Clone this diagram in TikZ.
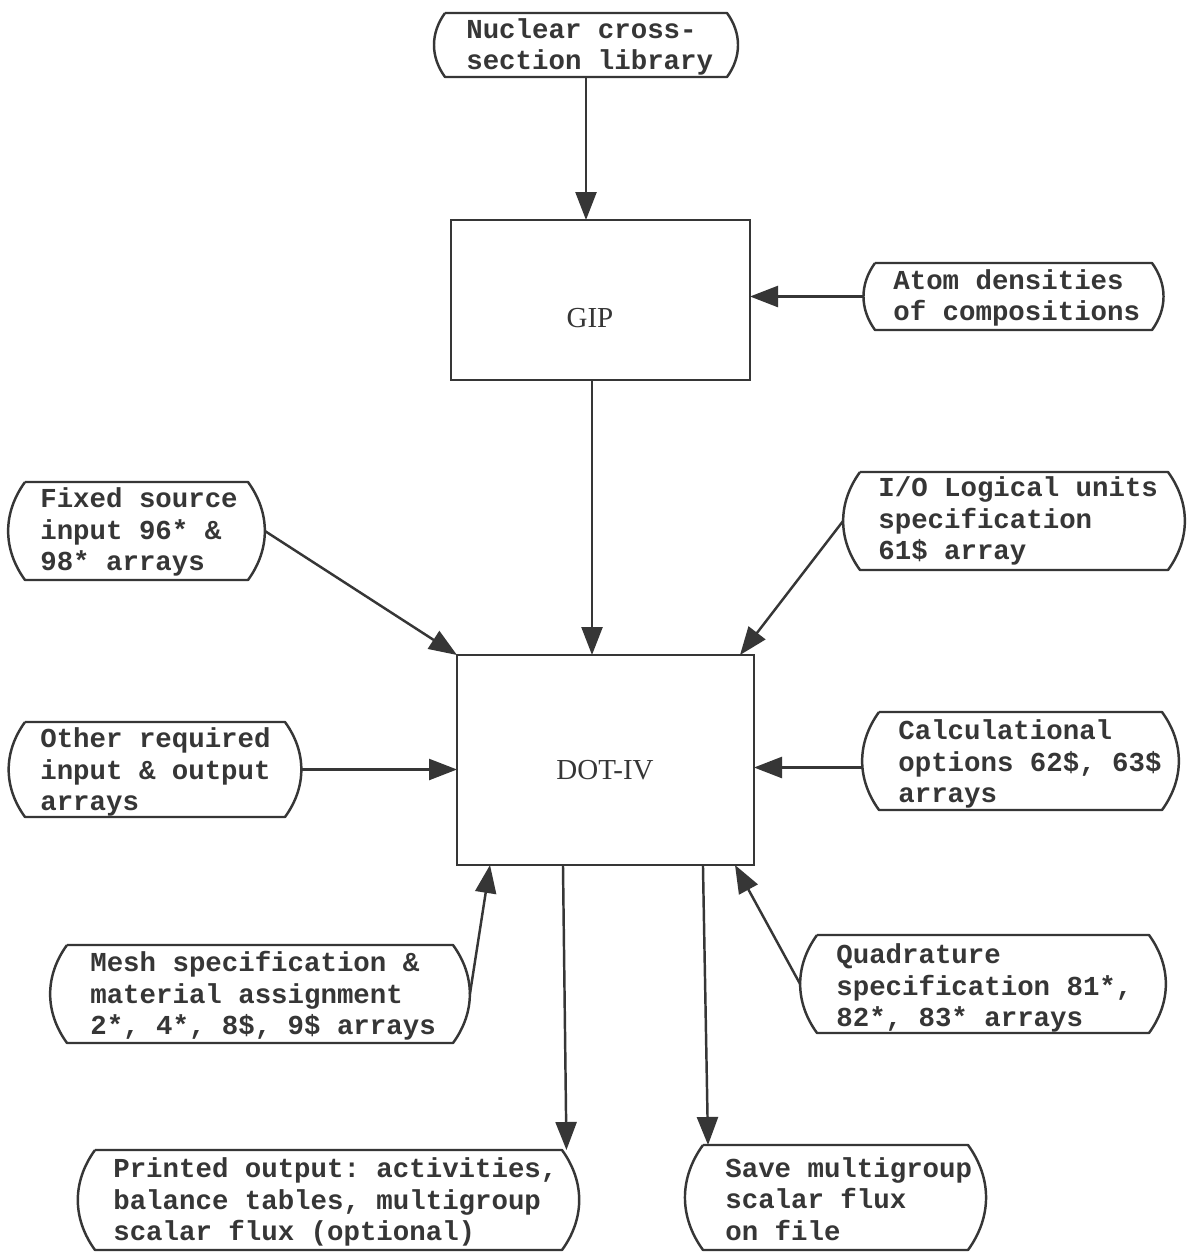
\documentclass[tikz,border=0pt]{standalone}
\usepackage{fontspec}
\setmonofont{Liberation Mono}
\newfontfamily\serifL{Liberation Serif}
\usetikzlibrary{arrows.meta,calc}
\definecolor{ink}{HTML}{363636}
\tikzset{
  frame/.style={draw=none,rectangle,inner sep=0pt,outer sep=0pt},
  line/.style={draw=ink,line width=1.4pt,line join=round},
  txt/.style={font=\ttfamily\bfseries\fontsize{15.6}{17.9}\selectfont,align=left,anchor=west,inner sep=0pt,text=ink},
  boxtxt/.style={font=\serifL\fontsize{16.5}{19}\selectfont,inner sep=0pt,text=ink},
  rectbox/.style={draw=ink,line width=1.4pt,rectangle,inner sep=0pt,outer sep=0pt},
  arr/.style={draw=ink,line width=1.4pt,-{Triangle[length=0.56cm,width=0.42cm]}}
}
\newcommand\tbox[5]{%
  \pgfmathsetmacro\bw{(#3-#2)+0.3452*(#5-#4)}%
  \pgfmathsetmacro\bh{#5-#4}%
  \pgfmathsetmacro\bb{0.1726*(#5-#4)*0.02}%
  \node[frame, minimum width=\bw*0.02cm, minimum height=\bh*0.02cm] (#1) at ({(#2+#3)/2},{(#4+#5)/2}) {};
  \draw[line] ([xshift=\bb cm]#1.north west) -- ([xshift=-\bb cm]#1.north east)
     to[bend left=36] ([xshift=-\bb cm]#1.south east) -- ([xshift=\bb cm]#1.south west)
     to[bend left=36] ([xshift=\bb cm]#1.north west);
}
\begin{document}
\begin{tikzpicture}[x=0.02cm,y=-0.02cm]
\useasboundingbox[fill=white] (0,0) rectangle (1193,1257);

% top library
\tbox{N}{445}{727}{13}{77}
\node[txt] (Nt) at (466,47) {Nuclear cross-\\section library};

% GIP
\node[rectbox, minimum width=299*0.02cm, minimum height=160*0.02cm] (GIP) at (600.5,300) {};
\node[boxtxt] (GIPt) at (590,318) {GIP};

\tbox{A}{875}{1152}{263}{330}
\node[txt] (At) at (893,298) {Atom densities\\of compositions};

% DOT-IV
\node[rectbox, minimum width=297*0.02cm, minimum height=210*0.02cm] (DOT) at (605.5,760) {};
\node[boxtxt] (DOTt) at (605,770) {DOT-IV};

\tbox{FS}{25}{248}{482}{580}
\node[txt] (FSt) at (40,532) {Fixed source\\input 96* \&\\98* arrays};

\tbox{IO}{860}{1168}{472}{570}
\node[txt] (IOt) at (878,521) {I/O Logical units\\specification\\61\$ array};

\tbox{OR}{25}{285}{722}{817}
\node[txt] (ORt) at (40,772) {Other required\\input \& output\\arrays};

\tbox{CO}{879}{1162}{712}{810}
\node[txt] (COt) at (898,764) {Calculational\\options 62\$, 63\$\\arrays};

\tbox{MS}{67}{453}{945}{1043}
\node[txt] (MSt) at (90,996) {Mesh specification \&\\material assignment\\2*, 4*, 8\$, 9\$ arrays};

\tbox{QS}{817}{1149}{935}{1033}
\node[txt] (QSt) at (836,988) {Quadrature\\specification 81*,\\82*, 83* arrays};

\tbox{PO}{95}{562}{1150}{1250}
\node[txt] (POt) at (113,1202) {Printed output: activities,\\balance tables, multigroup\\scalar flux (optional)};

\tbox{SM}{703}{968}{1145}{1250}
\node[txt] (SMt) at (725,1199) {Save multigroup\\scalar flux\\on file};

% connectors
\draw[arr] (N.south) -- (N.south |- GIP.north);
\draw[arr] (A.west) -- (A.west -| GIP.east);
\draw[arr] ([xshift=-0.17cm]GIP.south) -- ([xshift=-0.17cm]GIP.south |- DOT.north);
\draw[arr] (FS.east) -- (DOT.north west);
\draw[arr] (IO.west) -- ([xshift=-0.28cm]DOT.north east);
\draw[arr] (OR.east) -- (OR.east -| DOT.west);
\draw[arr] ([yshift=-0.13cm]CO.west) -- ([yshift=-0.13cm]CO.west -| DOT.east);
\draw[arr] (MS.east) -- ([xshift=0.66cm]DOT.south west);
\draw[arr] (QS.west) -- ([xshift=-0.38cm]DOT.south east);
\draw[arr] ([xshift=2.12cm]DOT.south west) -- ([xshift=4.76cm]PO.north);
\draw[arr] ([xshift=4.92cm]DOT.south west) -- ([xshift=-2.55cm]SM.north);
\end{tikzpicture}
\end{document}
